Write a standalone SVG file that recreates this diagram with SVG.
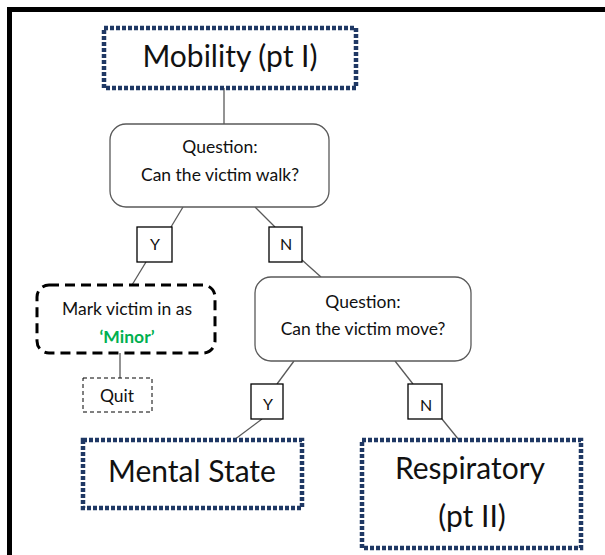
<svg xmlns="http://www.w3.org/2000/svg" width="605" height="555" viewBox="0 0 605 555">
<style>
.bg{fill:#fff}
.frame{stroke:#000;stroke-width:5;fill:none}
.dot{fill:#fff;stroke:#1F3864;stroke-width:4.5;stroke-dasharray:4 2}
.q{fill:#fff;stroke:#595959;stroke-width:1.3}
.yn{fill:#fff;stroke:#000;stroke-width:1.3}
.mark{fill:#fff;stroke:#000;stroke-width:3;stroke-dasharray:10 6}
.quit{fill:#fff;stroke:#000;stroke-width:1;stroke-dasharray:4 3}
.conn line{stroke:#595959;stroke-width:1.3;fill:none}
text{font-family:Lato,"Open Sans","Liberation Sans",sans-serif;fill:#111;text-anchor:middle}
.big{font-size:30px}
.mid{font-size:17.5px}
.sm{font-size:16px}
.minor{fill:#00B050;font-weight:bold}
</style>
<rect class="bg" x="0" y="0" width="605" height="555"/>
<path class="frame" d="M9.5,555 V9.5 H605"/>
<g class="conn" id="connectors">
<line x1="224" y1="88" x2="224" y2="124"/>
<line x1="183" y1="207" x2="171" y2="227"/>
<line x1="146" y1="262" x2="132" y2="285"/>
<line x1="255" y1="207" x2="275" y2="227"/>
<line x1="302" y1="260" x2="321" y2="277"/>
<line x1="120" y1="353" x2="120" y2="378"/>
<line x1="294" y1="361" x2="277" y2="384"/>
<line x1="262" y1="419" x2="234" y2="440"/>
<line x1="395" y1="361" x2="413" y2="384"/>
<line x1="442" y1="419" x2="459" y2="440"/>
</g>
<g id="mobility">
<rect class="dot" x="104" y="28" width="252" height="60"/>
<text class="big" x="230" y="67">Mobility (pt I)</text>
</g>
<g id="q1">
<rect class="q" x="110" y="124" width="219" height="83" rx="16"/>
<text class="mid" x="220" y="153">Question:</text>
<text class="mid" x="220" y="181">Can the victim walk?</text>
</g>
<g id="y1">
<rect class="yn" x="137" y="227" width="35" height="35"/>
<text class="sm" x="155" y="250">Y</text>
</g>
<g id="n1">
<rect class="yn" x="269" y="227" width="33" height="35"/>
<text class="sm" x="286" y="250">N</text>
</g>
<g id="mark">
<rect class="mark" x="37" y="285" width="178" height="68" rx="12"/>
<text class="mid" x="127" y="315">Mark victim in as</text>
<text class="mid minor" x="127" y="343">‘Minor’</text>
</g>
<g id="quit">
<rect class="quit" x="83" y="378" width="69" height="34"/>
<text class="mid" x="117" y="402">Quit</text>
</g>
<g id="q2">
<rect class="q" x="255" y="277" width="216" height="84" rx="16"/>
<text class="mid" x="363" y="308">Question:</text>
<text class="mid" x="363" y="335">Can the victim move?</text>
</g>
<g id="y2">
<rect class="yn" x="251" y="384" width="32" height="35"/>
<text class="sm" x="268" y="410">Y</text>
</g>
<g id="n2">
<rect class="yn" x="408" y="384" width="34" height="35"/>
<text class="sm" x="426" y="411">N</text>
</g>
<g id="mental">
<rect class="dot" x="83" y="440" width="219" height="68"/>
<text class="big" x="192" y="482">Mental State</text>
</g>
<g id="resp">
<rect class="dot" x="362" y="440" width="219" height="108"/>
<text class="big" x="470" y="479">Respiratory</text>
<text class="big" x="472" y="527">(pt II)</text>
</g>
</svg>
